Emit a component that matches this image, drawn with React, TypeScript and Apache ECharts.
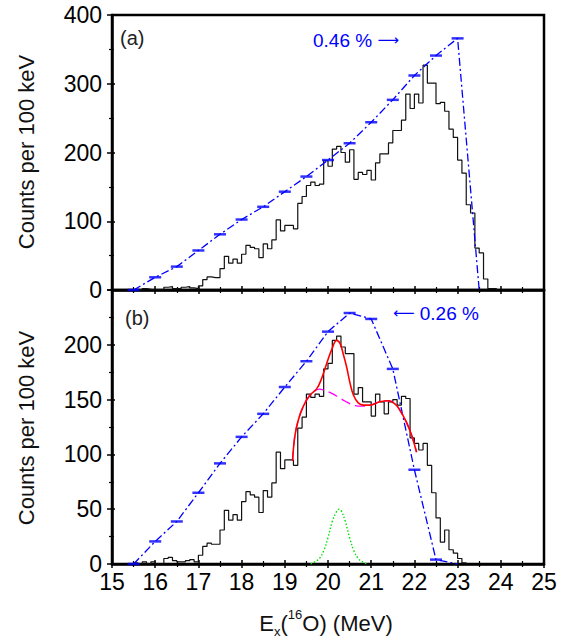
import React, { useEffect, useRef } from 'react';
import * as echarts from 'echarts';

// ---------- data ----------
const X_MIN = 15;
const X_MAX = 25;
const BIN_START = 15.5;
const BIN_WIDTH = 0.1;

// panel (a): counts per 100 keV bin, bins starting at 15.5 MeV
const countsA = [
  1, 0, 2, 1, 0, 0, 0, 4, 5, 2,
  2, 4, 5, 3, 2, 6, 15, 19, 18, 18,
  31, 49, 39, 45, 39, 52, 65, 62, 60, 47,
  67, 60, 73, 102, 86, 94, 94, 89, 126, 136,
  152, 157, 152, 154, 188, 180, 205, 209, 200, 186,
  204, 161, 171, 168, 174, 160, 185, 198, 198, 214,
  232, 232, 247, 285, 264, 285, 272, 327, 301, 301,
  271, 273, 260, 234, 222, 189, 170, 124, 112, 61,
  54, 16, 2, 2,
];

// panel (b): counts per 100 keV bin, bins starting at 15.5 MeV
const countsB = [
  1, 0, 2, 0, 2, 0, 0, 5, 6, 3,
  2, 2, 3, 4, 2, 8, 16, 19, 18, 18,
  31, 49, 40, 45, 40, 57, 66, 63, 61, 47,
  67, 61, 74, 102, 87, 95, 95, 90, 124, 134,
  155, 152, 155, 153, 178, 183, 204, 208, 198, 192,
  192, 155, 161, 148, 148, 135, 155, 148, 137, 148,
  150, 145, 153, 151, 115, 110, 104, 110, 90, 65,
  42, 20, 31, 13, 10, 5, 1,
];

// blue dash-dot curves (efficiency scaled), with bin-width bars
const effE_A = [15.5, 16, 16.5, 17, 17.5, 18, 18.5, 19, 19.5, 20, 20.5, 21, 21.5, 22, 22.5, 23, 23.5];
const effY_A = [0, 18.5, 34, 57.5, 81, 102.5, 121, 143, 165, 189, 213.5, 244, 276.6, 312, 341, 366, 0];
const effE_B = [15.5, 16, 16.5, 17, 17.5, 18, 18.5, 19, 19.5, 20, 20.5, 21, 21.5, 22, 22.5, 23];
const effY_B = [0, 20.6, 38.8, 65, 91.8, 116, 137, 161.5, 185, 212, 229, 223.6, 178, 86, 4, 0];

// fit curves in panel (b)
const fitE = [19.18, 19.23, 19.31, 19.43, 19.58, 19.74, 19.85, 19.97, 20.09, 20.2, 20.28, 20.35, 20.43, 20.51, 20.59, 20.7, 20.82, 20.97, 21.2, 21.4, 21.55, 21.67, 21.82, 21.94, 22.05];
const fitY = [94, 116, 131, 144, 154, 160, 169, 183, 196, 204, 201, 192, 180, 165, 154, 147, 145, 145, 148, 149, 146, 140, 129, 117, 102];
const bgE = [19.18, 19.23, 19.31, 19.43, 19.58, 19.7, 19.8, 19.95, 20.1, 20.25, 20.4, 20.55, 20.7, 20.85, 20.97, 21.2, 21.4, 21.55, 21.67, 21.82, 21.94, 22.05];
const bgY = [94, 116, 131, 144, 154, 158, 159.5, 158, 155.5, 152, 148.5, 145.5, 144, 144, 145, 148, 149, 146, 140, 129, 117, 102];
const peakE = [19.6, 19.7, 19.8, 19.9, 20.0, 20.1, 20.2, 20.25, 20.3, 20.4, 20.5, 20.6, 20.7, 20.8, 20.9];
const peakY = [0, 2, 5, 12, 24, 39, 48, 50, 49, 39, 24, 12, 5, 2, 0];

const Y_A = { min: 0, max: 400, interval: 100 };
const Y_B = { min: 0, max: 250, interval: 50 };

// ---------- helpers ----------
const FONT = '"Liberation Sans", Arial, Helvetica, sans-serif';
const ARROW_FONT = '"DejaVu Sans", sans-serif';
const BLUE = '#0000ff';

function histPoints(counts: number[]) {
  const pts: number[][] = [[BIN_START, 0]];
  counts.forEach((c, i) => pts.push([+(BIN_START + i * BIN_WIDTH).toFixed(2), c]));
  const end = +(BIN_START + counts.length * BIN_WIDTH).toFixed(2);
  pts.push([end, counts[counts.length - 1]]);
  pts.push([end, 0]);
  return pts;
}
const zip = (xs: number[], ys: number[]) => xs.map((x, i) => [x, ys[i]]);

const tickStyle = { color: '#000', width: 1.5 };
const minorStyle = { color: '#000', width: 1.2 };

function makeXAxes(gridIndex: number, showLabels: boolean) {
  const base: any = {
    gridIndex, type: 'value', min: X_MIN, max: X_MAX, interval: 1, position: 'bottom',
    splitLine: { show: false }, minorSplitLine: { show: false },
  };
  return [
    {
      ...base,
      axisLine: { show: true, onZero: false, lineStyle: { color: '#000', width: 2.5 } },
      axisTick: { show: true, inside: true, length: 4, lineStyle: tickStyle },
      minorTick: { show: true, splitNumber: 2, length: 3, lineStyle: minorStyle },
      axisLabel: showLabels
        ? { show: true, fontSize: 23, fontFamily: FONT, color: '#000', margin: 6 }
        : { show: false },
    },
    {
      ...base,
      axisLine: { show: false },
      axisTick: { show: true, inside: false, length: 4, lineStyle: tickStyle },
      minorTick: { show: true, splitNumber: 2, length: 3, lineStyle: minorStyle },
      axisLabel: { show: false },
    },
  ];
}

function makeYAxes(gridIndex: number, rng: { min: number; max: number; interval: number }, hideTop: boolean) {
  const base: any = {
    gridIndex, type: 'value', min: rng.min, max: rng.max, interval: rng.interval, position: 'left',
    splitLine: { show: false }, minorSplitLine: { show: false },
  };
  return [
    {
      ...base,
      axisLine: { show: true, onZero: false, lineStyle: { color: '#000', width: 2.5 } },
      axisTick: { show: true, inside: true, length: 3, lineStyle: tickStyle },
      minorTick: { show: true, splitNumber: 2, length: 2, lineStyle: minorStyle },
      axisLabel: {
        show: true, fontSize: 23, fontFamily: FONT, color: '#000', margin: 10,
        formatter: (v: number) => (hideTop && v === rng.max ? '' : String(v)),
      },
    },
    {
      ...base,
      axisLine: { show: false },
      axisTick: { show: true, inside: false, length: 5, lineStyle: tickStyle },
      minorTick: { show: true, splitNumber: 2, length: 3, lineStyle: minorStyle },
      axisLabel: { show: false },
    },
  ];
}

export default function App() {
  const ref = useRef<HTMLDivElement>(null);

  useEffect(() => {
    if (!ref.current) return;
    const chart = echarts.init(ref.current, null, { renderer: 'svg' });

    const histStyle = { color: '#111', width: 1.2 };
    const effLine = { color: BLUE, width: 1.3, type: [8, 3, 2, 3] as any };
    const blueRich = {
      t: { fontSize: 19, fontFamily: FONT, fill: BLUE, color: BLUE },
      ar: { fontSize: 15, fontFamily: ARROW_FONT, fill: BLUE, color: BLUE },
    };

    const option: any = {
      animation: false,
      backgroundColor: '#fff',
      grid: [
        { left: 112, top: 15, width: 432, height: 275, show: true, borderColor: '#000', borderWidth: 2.5, backgroundColor: 'transparent' },
        { left: 112, top: 290, width: 432, height: 274, show: true, borderColor: '#000', borderWidth: 2.5, backgroundColor: 'transparent' },
      ],
      xAxis: [...makeXAxes(0, false), ...makeXAxes(1, true)],
      yAxis: [...makeYAxes(0, Y_A, false), ...makeYAxes(1, Y_B, true)],
      series: [
        // panel (a)
        {
          type: 'line', xAxisIndex: 0, yAxisIndex: 0, step: 'end', showSymbol: false, symbol: 'none',
          data: histPoints(countsA), lineStyle: histStyle, z: 2,
        },
        {
          type: 'line', xAxisIndex: 0, yAxisIndex: 0, symbol: 'none', data: zip(effE_A, effY_A),
          lineStyle: effLine, z: 3,
        },
        {
          type: 'scatter', xAxisIndex: 0, yAxisIndex: 0, symbol: 'rect', symbolSize: [12, 2.5],
          data: zip(effE_A, effY_A).slice(0, -1), itemStyle: { color: BLUE }, z: 4,
        },
        // panel (b)
        {
          type: 'line', xAxisIndex: 2, yAxisIndex: 2, step: 'end', showSymbol: false, symbol: 'none',
          data: histPoints(countsB), lineStyle: histStyle, z: 2,
        },
        {
          type: 'line', xAxisIndex: 2, yAxisIndex: 2, symbol: 'none', data: zip(effE_B, effY_B),
          lineStyle: effLine, z: 3,
        },
        {
          type: 'scatter', xAxisIndex: 2, yAxisIndex: 2, symbol: 'rect', symbolSize: [12, 2.5],
          data: zip(effE_B, effY_B).slice(0, -1), itemStyle: { color: BLUE }, z: 4,
        },
        {
          type: 'line', xAxisIndex: 2, yAxisIndex: 2, symbol: 'none', smooth: 0.4, data: zip(peakE, peakY),
          lineStyle: { color: '#00e000', width: 1.4, type: [1.5, 2] }, z: 5,
        },
        {
          type: 'line', xAxisIndex: 2, yAxisIndex: 2, symbol: 'none', smooth: 0.4, data: zip(bgE, bgY),
          lineStyle: { color: '#ff00ff', width: 1.3, type: [10, 5] }, z: 5,
        },
        {
          type: 'line', xAxisIndex: 2, yAxisIndex: 2, symbol: 'none', smooth: 0.4, data: zip(fitE, fitY),
          lineStyle: { color: '#ff0000', width: 1.6 }, z: 6,
        },
      ],
      graphic: [
        {
          type: 'text', x: 120, y: 38,
          style: { text: '(a)', fontSize: 20, fontFamily: FONT, fill: '#222', align: 'left', verticalAlign: 'middle' },
        },
        {
          type: 'text', x: 125, y: 318,
          style: { text: '(b)', fontSize: 20, fontFamily: FONT, fill: '#222', align: 'left', verticalAlign: 'middle' },
        },
        {
          type: 'text', x: 313, y: 40,
          style: { text: '{t|0.46 % }{ar|\u27F6}', rich: blueRich, align: 'left', verticalAlign: 'middle' },
        },
        {
          type: 'text', x: 393, y: 313,
          style: { text: '{ar|\u27F5}{t| 0.26 %}', rich: blueRich, align: 'left', verticalAlign: 'middle' },
        },
        {
          type: 'text', x: 26, y: 152, rotation: Math.PI / 2,
          style: { text: 'Counts per 100 keV', fontSize: 22, fontFamily: FONT, fill: '#111', align: 'center', verticalAlign: 'middle' },
        },
        {
          type: 'text', x: 26, y: 428, rotation: Math.PI / 2,
          style: { text: 'Counts per 100 keV', fontSize: 22, fontFamily: FONT, fill: '#111', align: 'center', verticalAlign: 'middle' },
        },
        {
          type: 'text', x: 326, y: 623,
          style: {
            text: '{m|E}{sub|x}{m|(}{sup|16}{m|O) (MeV)}',
            align: 'center', verticalAlign: 'middle',
            rich: {
              m: { fontSize: 22, fontFamily: FONT, fill: '#111', color: '#111', lineHeight: 30 },
              sub: { fontSize: 13, fontFamily: FONT, fill: '#111', color: '#111', lineHeight: 14, verticalAlign: 'bottom' },
              sup: { fontSize: 13, fontFamily: FONT, fill: '#111', color: '#111', lineHeight: 14, verticalAlign: 'top' },
            },
          },
        },
      ],
    };

    chart.setOption(option);
    return () => chart.dispose();
  }, []);

  return (
    <div
      ref={ref}
      style={{ position: 'fixed', left: 0, top: 0, width: 566, height: 639, background: '#fff' }}
    />
  );
}
